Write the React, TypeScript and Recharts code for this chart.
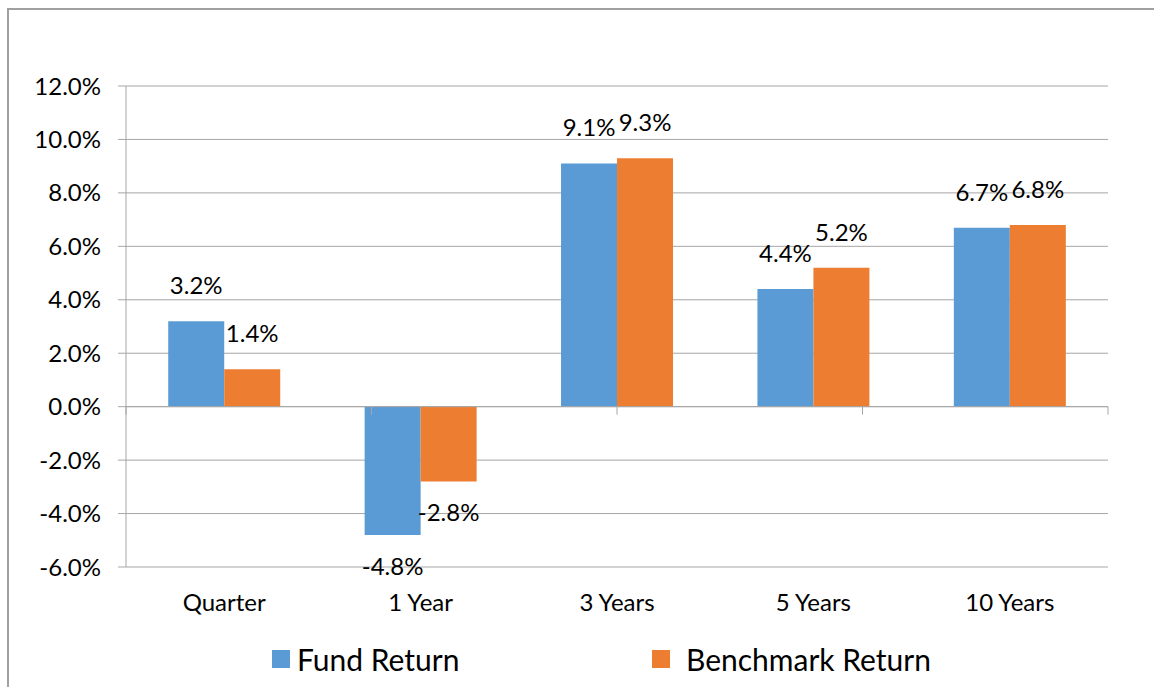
import {
  BarChart,
  Bar,
  XAxis,
  YAxis,
  CartesianGrid,
  Legend,
  LabelList,
  ReferenceLine,
} from "recharts";

const periods = ["Quarter", "1 Year", "3 Years", "5 Years", "10 Years"];
const fundReturn = [3.2, -4.8, 9.1, 4.4, 6.7];
const benchmarkReturn = [1.4, -2.8, 9.3, 5.2, 6.8];
const yTicks = [-6, -4, -2, 0, 2, 4, 6, 8, 10, 12];
const categoryEdges = [0, 1, 2, 3, 4, 5];
const seriesOrder = ["Fund Return", "Benchmark Return"];

const FONT = "Lato, 'Open Sans', sans-serif";
const GRID = "#a6a6a6";
const BLUE = "#5b9bd5";
const ORANGE = "#ed7d31";

const data = periods.map((p, i) => ({
  period: p,
  fund: fundReturn[i],
  benchmark: benchmarkReturn[i],
}));

const pct = (v: number) => `${v.toFixed(1)}%`;

// outside-end labels: above positive bars, below negative ones
const renderValueLabel = (props: any) => {
  const { x, y, width, height, value } = props;
  if (value == null) return null;
  const v = Number(value);
  const cx = Number(x) + Number(width) / 2;
  const y0 = Number(y);
  const y1 = Number(y) + Number(height);
  const end = v >= 0 ? Math.min(y0, y1) : Math.max(y0, y1);
  const ty = v >= 0 ? end - 27 : end + 40;
  return (
    <text x={cx} y={ty} textAnchor="middle" fontFamily={FONT} fontSize={24} fill="#000">
      {pct(v)}
    </text>
  );
};

const renderLegend = (props: any) => {
  const items = [...(props.payload || [])].sort(
    (a: any, b: any) => seriesOrder.indexOf(a.value) - seriesOrder.indexOf(b.value)
  );
  const lefts = [272, 652];
  const gaps = [7, 16];
  return (
    <div style={{ position: "relative", width: 1154, height: 60, fontFamily: FONT, fontSize: 30, color: "#000" }}>
      {items.map((it: any, i: number) => (
        <div
          key={it.value}
          style={{ position: "absolute", left: lefts[i], top: 14, display: "flex", alignItems: "center", lineHeight: "36px" }}
        >
          <span style={{ display: "inline-block", width: 18, height: 18, background: it.color, marginRight: gaps[i] }} />
          <span>{it.value}</span>
        </div>
      ))}
    </div>
  );
};

export default function App() {
  return (
    <div style={{ position: "fixed", left: 0, top: 0, width: 1154, height: 687, overflow: "hidden", background: "#fff" }}>
      <div
        style={{
          position: "absolute",
          left: 7,
          top: 8,
          width: 1160,
          height: 700,
          border: "2px solid #a0a0a0",
        }}
      />
      <div style={{ position: "absolute", left: 0, top: 0 }}>
        <BarChart
          width={1154}
          height={687}
          data={data}
          margin={{ top: 86, right: 46, left: 0, bottom: 0 }}
          barCategoryGap="21.5%"
          barGap={0}
        >
          <CartesianGrid vertical={false} stroke={GRID} strokeWidth={1} />
          <XAxis
            dataKey="period"
            height={60}
            axisLine={false}
            tickLine={false}
            tickMargin={21}
            tick={{ fontFamily: FONT, fontSize: 24, fill: "#000" }}
            interval={0}
          />
          <XAxis xAxisId="edges" type="number" domain={[0, 5]} allowDataOverflow hide />
          <YAxis
            width={126}
            domain={[-6, 12]}
            ticks={yTicks}
            interval={0}
            tickFormatter={pct}
            axisLine={{ stroke: GRID }}
            tickLine={{ stroke: GRID }}
            tickSize={8}
            tickMargin={17}
            tick={{ fontFamily: FONT, fontSize: 24, fill: "#000" }}
          />
          <ReferenceLine y={0} stroke={GRID} />
          {categoryEdges.map((e) => (
            <ReferenceLine
              key={e}
              xAxisId="edges"
              segment={[
                { x: e, y: 0 },
                { x: e, y: -0.3 },
              ]}
              stroke={GRID}
            />
          ))}
          <Legend verticalAlign="bottom" content={renderLegend} wrapperStyle={{ left: 0, bottom: 0 }} />
          <Bar dataKey="fund" name="Fund Return" fill={BLUE} isAnimationActive={false}>
            <LabelList dataKey="fund" content={renderValueLabel} />
          </Bar>
          <Bar dataKey="benchmark" name="Benchmark Return" fill={ORANGE} isAnimationActive={false}>
            <LabelList dataKey="benchmark" content={renderValueLabel} />
          </Bar>
        </BarChart>
      </div>
    </div>
  );
}
